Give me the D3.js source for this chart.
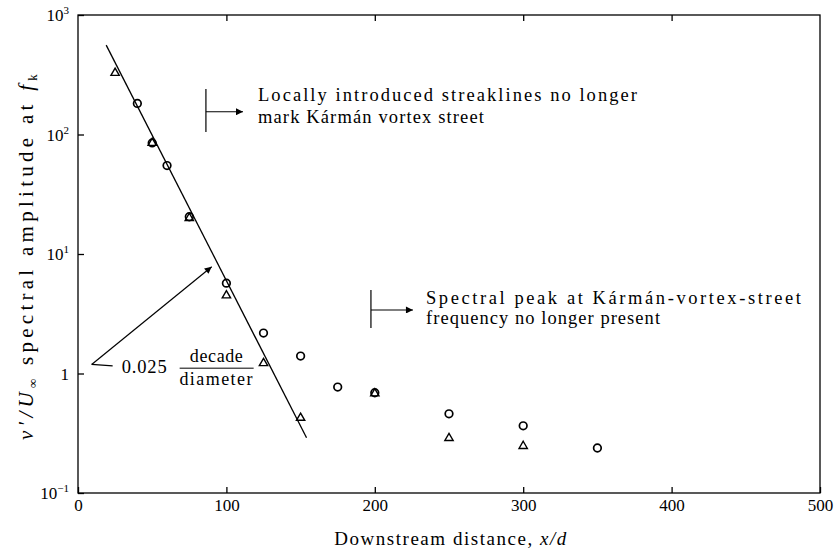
<!DOCTYPE html>
<html><head><meta charset="utf-8">
<script src="https://cdn.jsdelivr.net/npm/d3@7"></script>
<style>
body{margin:0;background:#fff}
svg{display:block}
text{font-family:"Liberation Serif","DejaVu Serif","Times New Roman",serif;fill:#000}
</style>
</head><body><svg id="chart" width="837" height="553"></svg>
<script>
// ---- data ----
const circleX = [40, 50, 60, 75, 100, 125, 150, 175, 200, 250, 300, 350];
const circleY = [182, 85, 55, 20.5, 5.7, 2.18, 1.40, 0.77, 0.69, 0.46, 0.365, 0.238];
const triangleX = [25, 50, 75, 100, 125, 150, 200, 250, 300];
const triangleY = [327, 85, 20, 4.5, 1.22, 0.425, 0.68, 0.288, 0.247];
const fitX = [19, 154];
const fitY = [560, 0.29];
const xTicks = [0, 100, 200, 300, 400, 500];
const yTicks = [0.1, 1, 10, 100, 1000];
const yTickExp = ["\u22121", "", "1", "2", "3"];

const svg = d3.select("#chart");
const W = 837, H = 553;
const m = {l: 78, r: 17, t: 15, b: 60};
const x = d3.scaleLinear().domain([0, 500]).range([m.l, W - m.r]);
const y = d3.scaleLog().domain([0.1, 1000]).range([H - m.b, m.t]);
const SERIF = '"Liberation Serif","DejaVu Serif",serif';

function fitWidth(sel, target) {
  const node = sel.node();
  const len = node.getComputedTextLength();
  const n = node.textContent.length;
  if (n > 1) sel.attr("letter-spacing", ((target - len) / (n - 1)).toFixed(2) + "px");
}

const defs = svg.append("defs");
defs.append("marker").attr("id", "arr").attr("viewBox", "0 0 10 10")
  .attr("refX", 10).attr("refY", 5).attr("markerWidth", 11).attr("markerHeight", 7)
  .attr("markerUnits", "userSpaceOnUse").attr("orient", "auto")
  .append("path").attr("d", "M0,0L10,5L0,10z").attr("fill", "#000");

// axes
const gB = svg.append("g").attr("transform", `translate(0,${y.range()[0]})`)
  .call(d3.axisBottom(x).tickValues(xTicks).tickSize(-6).tickPadding(6).tickFormat(d3.format("d")));
const gT = svg.append("g").attr("transform", `translate(0,${y.range()[1]})`)
  .call(d3.axisTop(x).tickValues(xTicks.slice(1, -1)).tickSize(-6).tickFormat(""));
const gL = svg.append("g").attr("transform", `translate(${x.range()[0]},0)`)
  .call(d3.axisLeft(y).tickValues(yTicks).tickSize(-6).tickPadding(9).tickFormat(""));
[gB, gT, gL].forEach(g => {
  g.attr("font-family", SERIF);
  g.select(".domain").remove();
  g.selectAll("line").attr("stroke", "#000").attr("stroke-width", 1.3);
  g.selectAll("text").attr("font-size", 17);
});
gL.selectAll(".tick text").each(function(d, i) {
  const t = d3.select(this).text(null).attr("dy", "0.34em");
  if (yTickExp[i] === "") { t.text("1"); return; }
  t.append("tspan").text("10");
  t.append("tspan").attr("font-size", 11).attr("dy", "-0.62em").text(yTickExp[i]);
});

// frame
svg.append("rect").attr("x", x.range()[0]).attr("y", y.range()[1])
  .attr("width", x.range()[1] - x.range()[0]).attr("height", y.range()[0] - y.range()[1])
  .attr("fill", "none").attr("stroke", "#000").attr("stroke-width", 1.3);

// fitted line
const fit = fitX.map((v, i) => [v, fitY[i]]);
svg.append("path").datum(fit)
  .attr("d", d3.line().x(d => x(d[0])).y(d => y(d[1])))
  .attr("fill", "none").attr("stroke", "#000").attr("stroke-width", 1.3);

// markers
svg.append("g").selectAll("circle").data(circleX.map((v, i) => [v, circleY[i]])).join("circle")
  .attr("cx", d => x(d[0])).attr("cy", d => y(d[1])).attr("r", 3.8)
  .attr("fill", "none").attr("stroke", "#000").attr("stroke-width", 1.7);
const tri = d3.symbol(d3.symbolTriangle, 30);
svg.append("g").selectAll("path").data(triangleX.map((v, i) => [v, triangleY[i]])).join("path")
  .attr("transform", d => `translate(${x(d[0])},${y(d[1])})`).attr("d", tri)
  .attr("fill", "none").attr("stroke", "#000").attr("stroke-width", 1.4);

// annotation helper
function bracket(xv, yTop, yBot, yArrow, xTip, xText, lines, offs, widths) {
  const g = svg.append("g");
  g.append("line").attr("x1", x(xv)).attr("x2", x(xv)).attr("y1", y(yTop)).attr("y2", y(yBot))
    .attr("stroke", "#000").attr("stroke-width", 1.2);
  g.append("line").attr("x1", x(xv)).attr("x2", x(xTip)).attr("y1", y(yArrow)).attr("y2", y(yArrow))
    .attr("stroke", "#000").attr("stroke-width", 1.2).attr("marker-end", "url(#arr)");
  lines.forEach((s, i) => {
    const t = g.append("text").attr("x", x(xText)).attr("y", y(yArrow) + offs[i])
      .attr("font-size", 18.5).text(s);
    fitWidth(t, widths[i]);
  });
}
bracket(86.2, 240, 105, 155, 111.2, 121.3,
  ["Locally introduced streaklines no longer", "mark K\u00e1rm\u00e1n vortex street"], [-11, 11], [379, 226]);
bracket(197.4, 5.0, 2.4, 3.4, 225.7, 234.5,
  ["Spectral peak at K\u00e1rm\u00e1n-vortex-street", "frequency no longer present"], [-6, 14], [375, 234]);

// slope annotation
const vx = x(9.2), vy = y(1.19);
svg.append("line").attr("x1", vx).attr("y1", vy).attr("x2", x(90.1)).attr("y2", y(7.83))
  .attr("stroke", "#000").attr("stroke-width", 1.2).attr("marker-end", "url(#arr)");
svg.append("line").attr("x1", vx).attr("y1", vy).attr("x2", vx + 21).attr("y2", vy + 1.5)
  .attr("stroke", "#000").attr("stroke-width", 1.2);
const t025 = svg.append("text").attr("x", vx + 30).attr("y", vy + 8.5).attr("font-size", 18.5).text("0.025");
fitWidth(t025, 45);
const fx = vx + 125;
const tdec = svg.append("text").attr("x", fx).attr("y", vy - 2.5).attr("text-anchor", "middle")
  .attr("font-size", 18).text("decade");
fitWidth(tdec, 53);
svg.append("line").attr("x1", fx - 37).attr("x2", fx + 37).attr("y1", vy + 3.7).attr("y2", vy + 3.7)
  .attr("stroke", "#000").attr("stroke-width", 1);
const tdia = svg.append("text").attr("x", fx).attr("y", vy + 21).attr("text-anchor", "middle")
  .attr("font-size", 18).text("diameter");
fitWidth(tdia, 73);

// axis titles
const xl = svg.append("text").attr("x", 451).attr("y", 545).attr("text-anchor", "middle").attr("font-size", 19);
xl.append("tspan").text("Downstream distance, ");
xl.append("tspan").attr("font-style", "italic").text("x/d");
fitWidth(xl, 232);

const yl = svg.append("text").attr("transform", "translate(33,255) rotate(-90)")
  .attr("text-anchor", "middle").attr("font-size", 21);
yl.append("tspan").attr("font-style", "italic").text("v\u2032/U");
yl.append("tspan").attr("font-size", 13).attr("dy", 4).text("\u221e");
yl.append("tspan").attr("dy", -4).text("  spectral amplitude at ");
yl.append("tspan").attr("font-style", "italic").text("f");
yl.append("tspan").attr("font-size", 13).attr("dy", 4).text("k");
fitWidth(yl, 370);
</script>
</body></html>
